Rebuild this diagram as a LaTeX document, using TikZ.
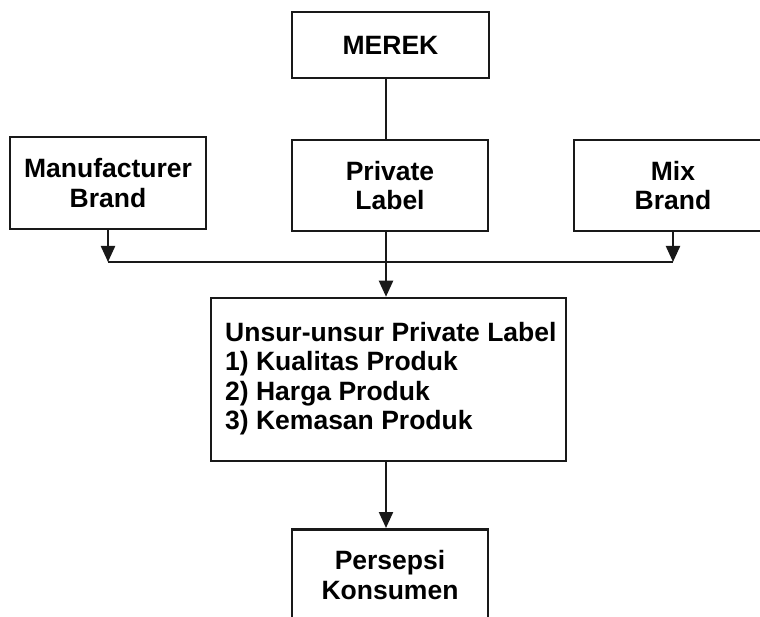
\documentclass[tikz,border=0pt]{standalone}
\usepackage{fontspec}
\setmainfont{Liberation Sans}
\usetikzlibrary{arrows.meta}
\begin{document}
\begin{tikzpicture}[x=1pt,y=-1pt,
  txt/.style={inner sep=0pt, font=\fontsize{26.5}{29.5}\selectfont\bfseries, text=black},
  box/.style={txt, draw=black!90, line width=2.5pt},
  conn/.style={draw=black!90, line width=2.2pt},
  arr/.style={conn, -{Triangle[length=16pt,width=14pt]}}]
\clip (0,0) rectangle (760,617);
\fill[white] (0,0) rectangle (760,617);
% boxes
\node[box, minimum width=197pt, minimum height=66pt, align=center] (merek) at (390.5,45) {MEREK};
\node[box, minimum width=196pt, minimum height=92pt, align=center] (manu) at (108,183) {Manufacturer\\Brand};
\node[box, minimum width=196pt, minimum height=91pt, align=center] (priv) at (390,185.5) {Private\\Label};
\node[box, minimum width=198pt, minimum height=91pt, align=center] (mix) at (673,185.5) {Mix\\Brand};
\node[box, minimum width=355pt, minimum height=163pt] (unsur) at (388.5,379.5) {};
\node[txt, align=left, anchor=north west] (unsurtxt) at (225,321.6)
  {Unsur-unsur Private Label\\1) Kualitas Produk\\2) Harga Produk\\3) Kemasan Produk};
\node[box, minimum width=196pt, minimum height=92pt, align=center, anchor=north] (pers) at (390,528)
  {Persepsi\\Konsumen};
% bus
\coordinate (busL) at (manu.south |- 0,262);
\coordinate (busR) at (673,262);
\draw[conn] (merek.south -| 386,0) -- (priv.north -| 386,0);
\draw[conn] (busL) -- (busR);
\draw[arr] (manu.south) -- (busL);
\draw[arr] (mix.south) -- (busR);
\draw[arr] (priv.south -| 386,0) -- (unsur.north -| 386,0);
\draw[arr] (unsur.south -| 386,0) -- (pers.north -| 386,0);
\end{tikzpicture}
\end{document}
